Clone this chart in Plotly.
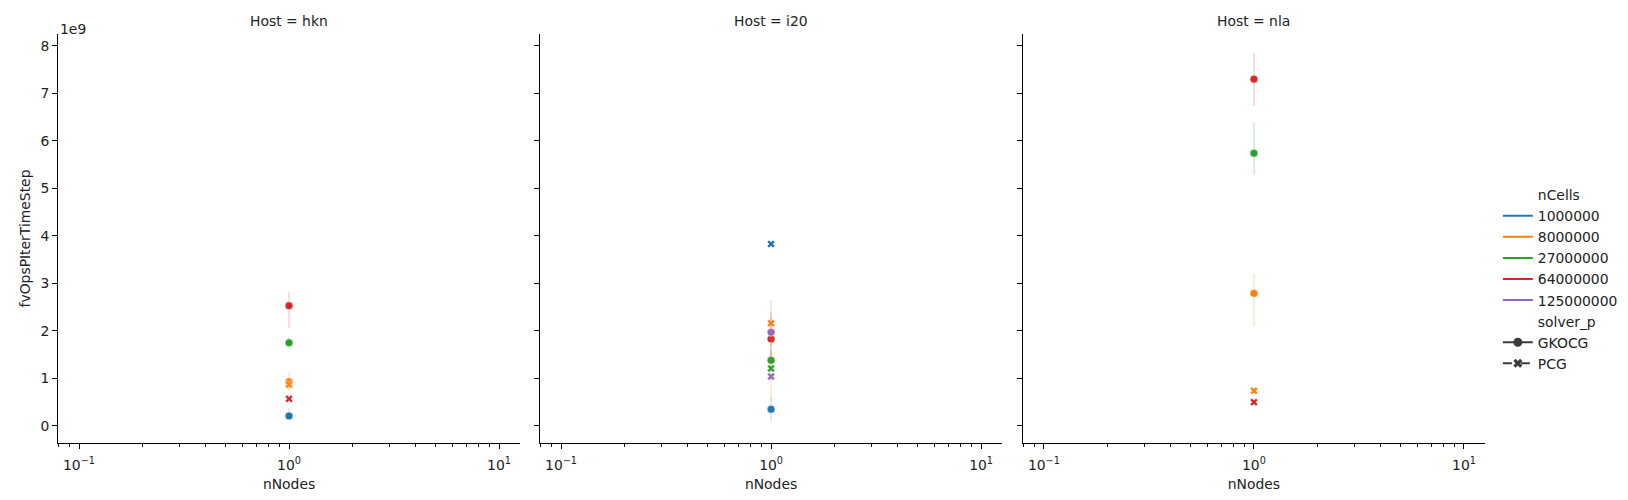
import plotly.graph_objects as go
from plotly.subplots import make_subplots

hosts = ["hkn", "i20", "nla"]
n_cells = [1000000, 8000000, 27000000, 64000000, 125000000]
solvers = ["GKOCG", "PCG"]
n_nodes = 1

# fvOpsPIterTimeStep in units of 1e9, aligned with n_cells (None = not run)
gkocg_val = {"hkn": [0.21, 0.93, 1.75, 2.53, None],
             "i20": [0.35, None, 1.38, 1.83, 1.97],
             "nla": [None, 2.79, 5.74, 7.30, None]}
gkocg_lo = {"hkn": [0.13, 0.72, 1.64, 2.06, None],
            "i20": [0.12, None, 1.20, 1.45, 1.70],
            "nla": [None, 2.10, 5.28, 6.74, None]}
gkocg_hi = {"hkn": [0.38, 1.12, 1.88, 2.81, None],
            "i20": [0.58, None, 1.60, 2.30, 2.65],
            "nla": [None, 3.19, 6.39, 7.85, None]}

pcg_val = {"hkn": [None, 0.87, None, 0.57, None],
           "i20": [3.83, 2.16, 1.21, None, 1.04],
           "nla": [None, 0.74, None, 0.50, None]}
pcg_lo = {"hkn": [None, 0.80, None, 0.55, None],
          "i20": [3.83, 0.55, 1.15, None, 0.98],
          "nla": [None, 0.72, None, 0.49, None]}
pcg_hi = {"hkn": [None, 0.95, None, 0.59, None],
          "i20": [3.83, 2.40, 1.28, None, 1.10],
          "nla": [None, 0.76, None, 0.51, None]}

colors = ["#1f77b4", "#ff7f0e", "#2ca02c", "#d62728", "#9467bd"]
ytick_vals = [0, 1, 2, 3, 4, 5, 6, 7, 8]
xtick_vals = [0.1, 1, 10]
xtick_text = ["10<sup>−1</sup>", "10<sup>0</sup>", "10<sup>1</sup>"]

FS = 13.9


def rgba(hex_color, a):
    h = hex_color.lstrip("#")
    r, g, b = int(h[0:2], 16), int(h[2:4], 16), int(h[4:6], 16)
    return "rgba(%d,%d,%d,%s)" % (r, g, b, a)


fig = make_subplots(rows=1, cols=3, shared_yaxes=True)

symbols = {"GKOCG": "circle", "PCG": "x"}
sizes = {"GKOCG": 8, "PCG": 7}
tables = {"GKOCG": (gkocg_val, gkocg_lo, gkocg_hi), "PCG": (pcg_val, pcg_lo, pcg_hi)}

for col, host in enumerate(hosts, start=1):
    for solver in solvers:
        val, lo, hi = tables[solver]
        for i, c in enumerate(n_cells):
            v = val[host][i]
            if v is None:
                continue
            fig.add_trace(go.Scatter(
                x=[n_nodes], y=[v], mode="markers",
                marker=dict(symbol=symbols[solver], size=sizes[solver], color=colors[i],
                            line=dict(color="white", width=0.6)),
                error_y=dict(type="data", symmetric=False,
                             array=[hi[host][i] - v], arrayminus=[v - lo[host][i]],
                             color=rgba(colors[i], 0.22), thickness=1.5, width=0),
                showlegend=False, hoverinfo="skip"), row=1, col=col)


# legend entries (seaborn style)
def legend_entry(name, **kw):
    fig.add_trace(go.Scatter(x=[None], y=[None], name=name, **kw), row=1, col=1)


legend_entry("nCells", mode="lines", line=dict(color="rgba(0,0,0,0)", width=2))
for i, c in enumerate(n_cells):
    legend_entry(str(c), mode="lines", line=dict(color=colors[i], width=2))
legend_entry("solver_p", mode="lines", line=dict(color="rgba(0,0,0,0)", width=2))
legend_entry("GKOCG", mode="lines+markers", line=dict(color="#3b3b3b", width=2),
             marker=dict(symbol="circle", size=9, color="#3b3b3b"))
legend_entry("PCG", mode="lines+markers", line=dict(color="#3b3b3b", width=2, dash="dash"),
             marker=dict(symbol="x", size=8, color="#3b3b3b"))

domains = [[0.0, 0.3238], [0.3378, 0.6616], [0.6762, 1.0]]
minor_vals = [k * 0.01 for k in (8, 9)] + [k * 0.1 for k in range(2, 10)] + [float(k) for k in range(2, 10)]

for col in range(1, 4):
    fig.update_xaxes(type="log", range=[-1.1, 1.1], domain=domains[col - 1],
                     tickmode="array", tickvals=xtick_vals, ticktext=xtick_text,
                     ticks="outside", ticklen=5, tickwidth=1, tickcolor="black",
                     tickfont=dict(size=FS), ticklabelstandoff=4,
                     minor=dict(ticks="outside", ticklen=2.5, tickwidth=0.8,
                                tickcolor="black", tickmode="array", tickvals=minor_vals),
                     showline=True, linecolor="black", linewidth=1, showgrid=False,
                     zeroline=False,
                     title=dict(text="nNodes", standoff=7, font=dict(size=FS)),
                     row=1, col=col)
    fig.update_yaxes(range=[-0.36, 8.25], tickmode="array", tickvals=ytick_vals,
                     ticks="outside", ticklen=5, tickwidth=1, tickcolor="black",
                     tickfont=dict(size=FS),
                     showline=True, linecolor="black", linewidth=1, showgrid=False,
                     zeroline=False, showticklabels=(col == 1), row=1, col=col)

fig.update_yaxes(title=dict(text="fvOpsPIterTimeStep", standoff=6, font=dict(size=FS)),
                 row=1, col=1)

for col, host in enumerate(hosts):
    d = domains[col]
    fig.add_annotation(text="Host = " + host, xref="paper", yref="paper",
                       x=(d[0] + d[1]) / 2, y=1.0, yshift=3, xanchor="center",
                       yanchor="bottom", showarrow=False, font=dict(size=FS))

fig.add_annotation(text="1e9", xref="paper", yref="paper", x=0, y=1.0, yshift=-5,
                   xanchor="left", yanchor="bottom", showarrow=False, font=dict(size=FS))

# the page body adds an 8px offset, so margins are shifted to compensate
fig.update_layout(
    width=1628, height=500,
    margin=dict(l=50, r=151, t=26, b=65),
    plot_bgcolor="white", paper_bgcolor="white",
    font=dict(family="DejaVu Sans", size=FS, color="#222"),
    legend=dict(x=1.009, y=0.645, xanchor="left", yanchor="top",
                font=dict(size=FS), itemwidth=30, tracegroupgap=0,
                bgcolor="rgba(0,0,0,0)"),
)

fig.write_html("out.html")
